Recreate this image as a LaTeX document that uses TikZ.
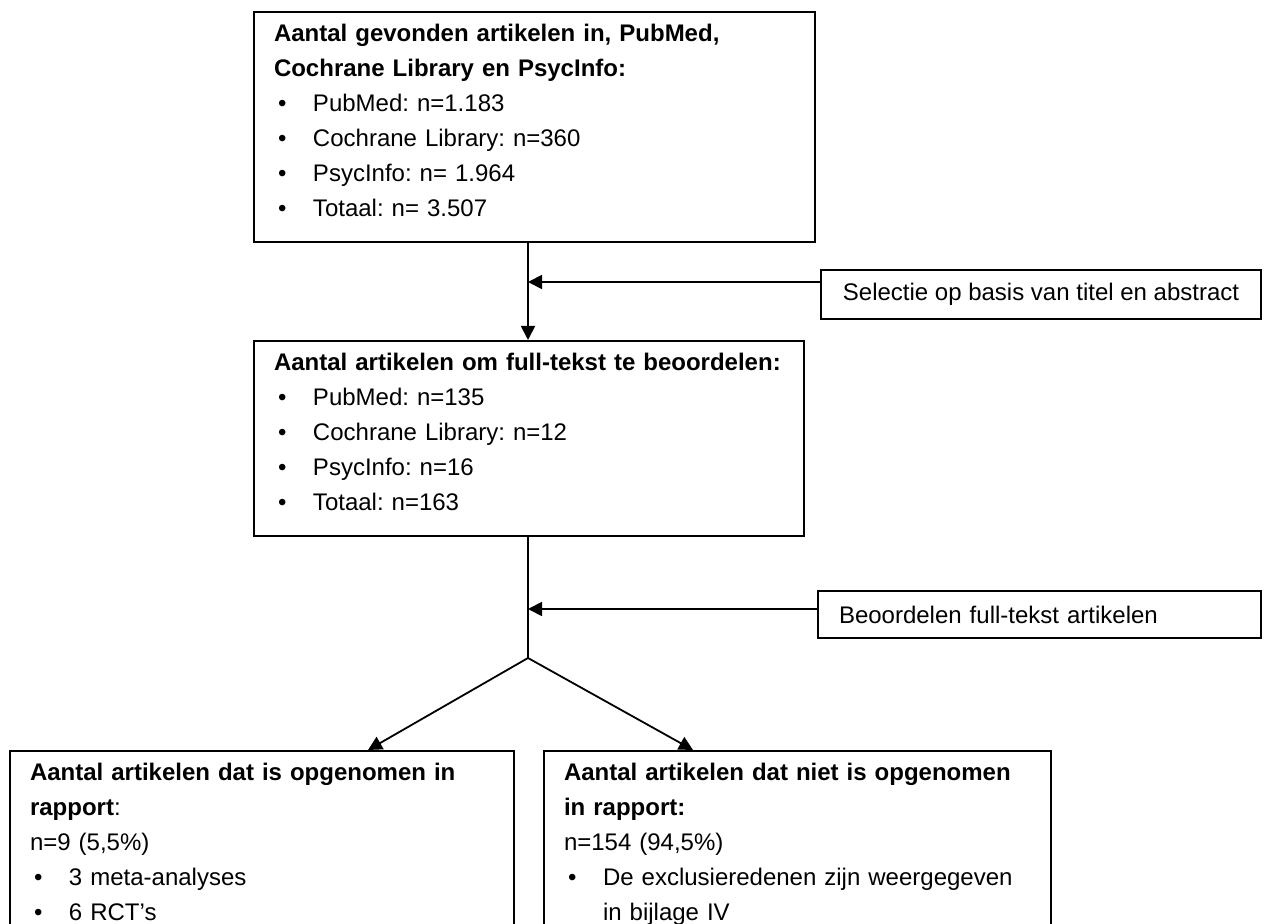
\documentclass[tikz,border=0pt]{standalone}
\usepackage{fontspec}
\setmainfont{Liberation Sans}
\usepackage{tikz}
\usetikzlibrary{arrows.meta,calc}
\frenchspacing

\tikzset{
  box/.style={draw, line width=1pt, anchor=north west, align=left,
    inner xsep=10pt, inner ysep=6pt, font=\fontsize{12}{17.5}\selectfont},
  sidebox/.style={box, inner xsep=10.5pt, inner ysep=0pt},
  arr/.style={-{Triangle[length=7pt,width=7pt]}, line width=0.9pt},
  lin/.style={line width=0.9pt},
}
\newcommand{\bul}{\makebox[19.5pt][l]{\hspace{2pt}\textbullet}}

\begin{document}
\begin{tikzpicture}[x=0.5pt, y=-0.5pt]
    \clip (0,0) rectangle (1267,924);

    % Search
    \node[box, text width=260.5pt, text depth=94.2pt] (found) at (253,11)
        {\textbf{Aantal gevonden artikelen in, PubMed,}\\
         \textbf{Cochrane Library en PsycInfo:}\\
         \bul PubMed: n=1.183\\
         \bul Cochrane Library: n=360\\
         \bul PsycInfo: n= 1.964\\
         \bul Totaal: n= 3.507};

    % Full text
    \node[box, text width=255pt, text depth=76.7pt] (full) at (253,340)
        {\textbf{Aantal artikelen om full-tekst te beoordelen:}\\
         \bul PubMed: n=135\\
         \bul Cochrane Library: n=12\\
         \bul PsycInfo: n=16\\
         \bul Totaal: n=163};

    % Side steps
    \node[sidebox, align=center, minimum width=220pt, minimum height=24.5pt] (sel) at (820,269)
        {Selectie op basis van titel en abstract};
    \node[sidebox, text width=200.5pt, minimum height=23.5pt] (judge) at (817,590)
        {Beoordelen full-tekst artikelen};

    % Result (cut off by the page)
    \node[box, text width=232pt, text depth=100pt] (incl) at (9,750)
        {\textbf{Aantal artikelen dat is opgenomen in}\\
         \textbf{rapport}:\\
         n=9 (5,5\%)\\
         \bul 3 meta-analyses\\
         \bul 6 RCT’s};
    \node[box, text width=233.5pt, text depth=100pt] (excl) at (543,750)
        {\textbf{Aantal artikelen dat niet is opgenomen}\\
         \textbf{in rapport:}\\
         n=154 (94,5\%)\\
         \bul De exclusieredenen zijn weergegeven\\
         \hspace*{19.5pt}in bijlage IV};

    % Connectors
    \coordinate (split) at (528,658);
    \coordinate (selin) at ($(sel.north west)+(0,13)$);
    \coordinate (judgein) at ($(judge.north west)+(0,19)$);

    \draw[arr] (found.south -| split) -- (full.north -| split);
    \draw[arr] (selin) -- (selin -| split);
    \draw[lin] (full.south -| split) -- (split);
    \draw[arr] (judgein) -- (judgein -| split);
    \draw[arr] (split) -- ($(incl.north west)+(359,0)$);
    \draw[arr] (split) -- ($(excl.north west)+(150,0)$);
\end{tikzpicture}
\end{document}
